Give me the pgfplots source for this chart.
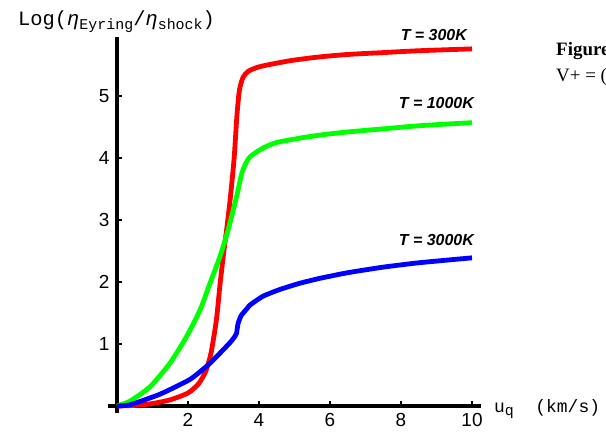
\documentclass[border=0pt]{standalone}
\usepackage{fontspec}
\setmainfont{Liberation Sans}
\setmonofont{Liberation Mono}
\newfontfamily\seriffont{Liberation Serif}
\usepackage{pgfplots}
\pgfplotsset{compat=1.18}
\newcommand{\sub}[1]{\raisebox{-0.35ex}{\fontsize{15}{15}\selectfont #1}}
\begin{document}
\begin{tikzpicture}[x=1bp,y=1bp]
\useasboundingbox (0,0) rectangle (606,431);
\begin{axis}[
  at={(117bp,25bp)}, anchor=origin,
  x=35.5bp, y=62bp,
  xmin=-0.25, xmax=10.25, ymin=-0.11, ymax=5.95,
  axis lines=middle,
  axis line style={line width=3.2bp,-,black},
  xtick={2,4,6,8,10}, ytick={1,2,3,4,5},
  tick align=inside,
  major tick length=5bp,
  tick style={line width=2.5bp,black},
  tick label style={font=\fontsize{19}{19}\selectfont},
  xticklabel style={yshift=-4bp},
  yticklabel style={xshift=-4bp},
  /pgf/number format/assume math mode=true,
  clip=false,
]
\addplot[red, line width=4.8bp, smooth, tension=0.4] coordinates {
(0,0) (0.5,0.01) (1,0.04) (1.5,0.1) (2,0.21) (2.3,0.36) (2.5,0.56) (2.65,0.86)
(2.8,1.39) (2.9,1.95) (3.0,2.45) (3.1,2.9) (3.2,3.4) (3.3,4.0) (3.38,4.7) (3.45,5.1)
(3.55,5.3) (3.7,5.4) (4.0,5.47) (4.5,5.53) (5,5.58) (5.7,5.63) (6.5,5.67) (7.5,5.70)
(8.5,5.73) (10,5.76)};
\addplot[green, line width=4.8bp, smooth, tension=0.4] coordinates {
(0,0) (0.37,0.08) (0.93,0.31) (1.49,0.69) (1.96,1.12) (2.34,1.55) (2.62,1.98)
(2.9,2.41) (3.13,2.84) (3.37,3.38) (3.5,3.72) (3.6,3.88) (3.75,4.02) (4.11,4.16)
(4.5,4.25) (5.15,4.32) (5.72,4.37) (6.5,4.42) (7.5,4.47) (8.5,4.52) (10,4.57)};
\addplot[blue, line width=4.8bp, smooth, tension=0.3] coordinates {
(0,0) (0.37,0.02) (1.21,0.19) (2.06,0.43) (2.62,0.69) (3.18,1.02) (3.33,1.13)
(3.37,1.18) (3.41,1.33) (3.5,1.46) (3.66,1.57) (3.75,1.63) (4.11,1.77) (4.59,1.88)
(5.15,1.98) (5.72,2.06) (6.5,2.15) (7.5,2.24) (8.5,2.31) (10,2.39)};
\end{axis}
\node[anchor=base west, inner sep=0] at (18,405)
  {\fontsize{20.5}{20.5}\selectfont\ttfamily Log({\itshape η}\sub{Eyring}/{\itshape η}\sub{shock})};
\node[anchor=base west, inner sep=0] at (494,19)
  {\fontsize{18}{18}\selectfont\ttfamily u\sub{q}\ \ (km/s)};
\node[anchor=base east, inner sep=0] at (467,390)
  {\fontsize{16}{16}\selectfont\bfseries\itshape T = 300K};
\node[anchor=base east, inner sep=0] at (474,323)
  {\fontsize{16}{16}\selectfont\bfseries\itshape T = 1000K};
\node[anchor=base east, inner sep=0] at (474,186)
  {\fontsize{16}{16}\selectfont\bfseries\itshape T = 3000K};
\node[anchor=base west, inner sep=0] at (556,376)
  {\fontsize{19}{19}\selectfont\seriffont\bfseries Figure 1.};
\node[anchor=base west, inner sep=0] at (556,350)
  {\fontsize{19}{19}\selectfont\seriffont V+ = (0};
\end{tikzpicture}
\end{document}
